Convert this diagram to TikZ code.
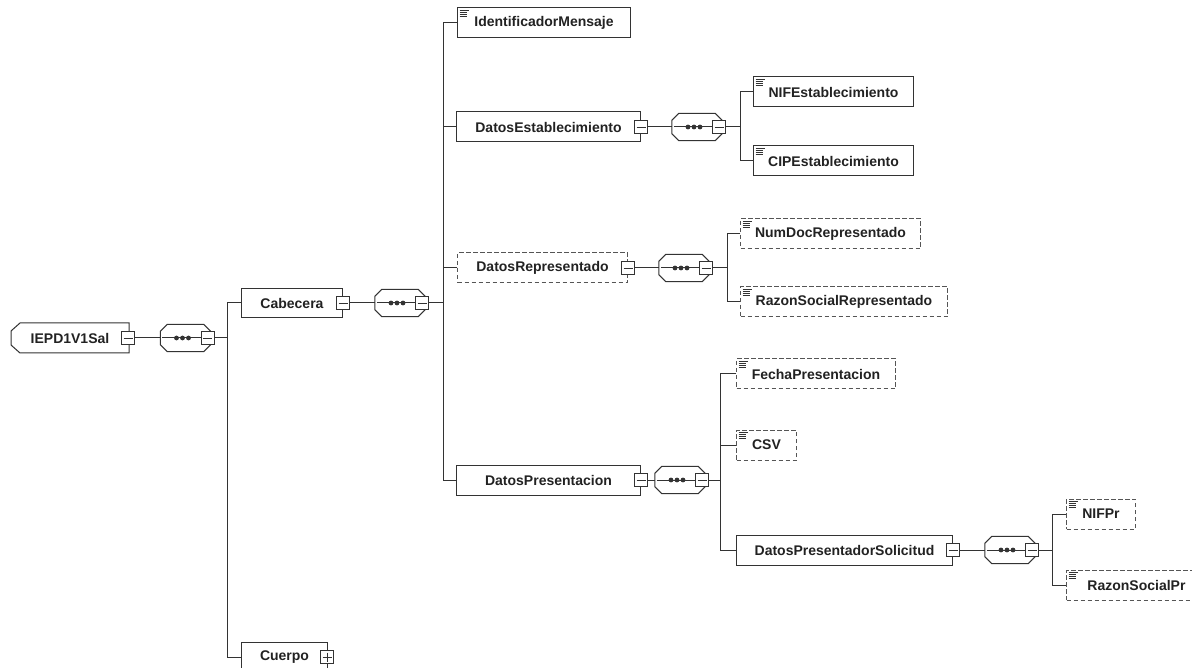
\documentclass[tikz,border=0pt]{standalone}
\usepackage{fontspec}
\setmainfont{Liberation Sans}
\definecolor{linec}{HTML}{333333}
\definecolor{optc}{HTML}{555555}
\definecolor{txtc}{HTML}{222222}
\tikzset{
 wire/.style={draw=linec, line width=1pt},
 elembox/.style={draw=linec, fill=white, line width=1pt, minimum height=30pt, inner sep=0pt, anchor=west, font=\fontsize{14}{16}\selectfont\bfseries, text=txtc},
 optbox/.style={elembox, draw=optc, dash pattern=on 4.5pt off 2.5pt},
 rootbox/.style={elembox, draw=none, fill=none},
 seqbox/.style={minimum width=50pt, minimum height=27pt, inner sep=0pt},
 mbox/.style={draw=linec, fill=white, line width=0.9pt, minimum size=13pt, inner sep=0pt,
   path picture={\draw[linec, line width=0.9pt] ([xshift=2pt]path picture bounding box.west) -- ([xshift=-2pt]path picture bounding box.east);}},
 pbox/.style={draw=linec, fill=white, line width=0.9pt, minimum size=13pt, inner sep=0pt,
   path picture={\draw[linec, line width=0.9pt] ([xshift=2pt]path picture bounding box.west) -- ([xshift=-2pt]path picture bounding box.east);
     \draw[linec, line width=0.9pt] ([yshift=-2pt]path picture bounding box.north) -- ([yshift=2pt]path picture bounding box.south);}},
}
\newcommand{\seqdraw}[1]{%
 \draw[wire, fill=white] ([xshift=7pt]#1.north west) -- ([xshift=-7pt]#1.north east) -- ([yshift=-7pt]#1.north east) -- ([yshift=7pt]#1.south east) -- ([xshift=-7pt]#1.south east) -- ([xshift=7pt]#1.south west) -- ([yshift=7pt]#1.south west) -- ([yshift=-7pt]#1.north west) -- cycle;
 \node[mbox] (#1m) at ([xshift=-3pt]#1.east) {};
 \draw[wire] ([xshift=2pt]#1.west) -- (#1m.west);
 \foreach \d in {-9,-3,3} \fill[linec] ([xshift=\d pt]#1.center) circle (2.4pt);
}
\newcommand{\docicon}[1]{%
 \draw[linec, line width=0.8pt] ([shift={(2.5pt,-2.5pt)}]#1.north west) -- ++(9pt,0pt)
   ([shift={(2.5pt,-4.7pt)}]#1.north west) -- ++(7pt,0pt)
   ([shift={(2.5pt,-6.9pt)}]#1.north west) -- ++(7pt,0pt)
   ([shift={(2.5pt,-9.1pt)}]#1.north west) -- ++(7pt,0pt);}
\begin{document}
\begin{tikzpicture}[x=1pt, y=-1pt]
\useasboundingbox (0,0) rectangle (1192,668);
\clip (0,0) rectangle (1192,668);
\fill[white] (0,0) rectangle (1192,668);
% vertical bus coordinates
\coordinate (v0) at (227,0);
\coordinate (v1) at (443,0);
\coordinate (v2) at (740,0);
\coordinate (v3) at (727,0);
\coordinate (v4) at (720,0);
\coordinate (v5) at (1052,0);
% root
\node[rootbox, minimum width=117pt, minimum height=29pt] (root) at (11,338) {IEPD1V1Sal};
\draw[wire] ([xshift=9pt]root.north west) -- (root.north east) -- (root.south east) -- ([xshift=9pt]root.south west) -- ([yshift=8pt]root.south west) -- ([yshift=-8pt]root.north west) -- cycle;
\node[mbox] (rootm) at ([xshift=-1pt]root.east) {};
\node[seqbox] (s0) at (185.5,338) {};
\seqdraw{s0}
% level 1
\node[elembox, minimum width=101pt, minimum height=29pt] (cab) at (241,303) {Cabecera};
\node[mbox] (cabm) at (cab.east) {};
\node[seqbox] (s1) at (400,303) {};
\seqdraw{s1}
\node[elembox, minimum width=86pt] (cuerpo) at (241,657) {Cuerpo};
\node[pbox] (cuerpop) at ([xshift=-1pt]cuerpo.east) {};
% level 2
\node[elembox, minimum width=173pt] (idm) at (457,23) {IdentificadorMensaje};
\docicon{idm}
\node[elembox, minimum width=184pt] (dest) at (456,127) {DatosEstablecimiento};
\node[mbox] (destm) at (dest.east) {};
\node[seqbox] (s2) at (697,127) {};
\seqdraw{s2}
\node[optbox, minimum width=170pt] (drep) at (457,268) {DatosRepresentado};
\node[mbox] (drepm) at (drep.east) {};
\node[seqbox] (s3) at (684,268) {};
\seqdraw{s3}
\node[elembox, minimum width=184pt] (dpre) at (456,480) {DatosPresentacion};
\node[mbox] (dprem) at (dpre.east) {};
\node[seqbox] (s4) at (680,480) {};
\seqdraw{s4}
% level 3
\node[elembox, minimum width=160pt] (nife) at (753,92) {NIFEstablecimiento};
\docicon{nife}
\node[elembox, minimum width=160pt] (cipe) at (753,161) {CIPEstablecimiento};
\docicon{cipe}
\node[optbox, minimum width=180pt] (ndr) at (740,234) {NumDocRepresentado};
\docicon{ndr}
\node[optbox, minimum width=207pt] (rsr) at (740,302) {RazonSocialRepresentado};
\docicon{rsr}
\node[optbox, minimum width=159pt] (fech) at (736,374) {FechaPresentacion};
\docicon{fech}
\node[optbox, minimum width=60pt] (csv) at (736,445) {CSV};
\docicon{csv}
\node[elembox, minimum width=216pt] (dps) at (736,550) {DatosPresentadorSolicitud};
\node[mbox] (dpsm) at (dps.east) {};
\node[seqbox] (s5) at (1010,550) {};
\seqdraw{s5}
% level 4
\node[optbox, minimum width=69pt] (nifpr) at (1066,514) {NIFPr};
\docicon{nifpr}
\node[optbox, minimum width=140pt] (rspr) at (1066,585) {RazonSocialPr};
\docicon{rspr}
% connectors
\draw[wire] (rootm.east) -- (s0.west);
\draw[wire] (s0m.east) -- (s0m.east -| v0);
\draw[wire] (cab.west) -- (cab.west -| v0) -- (cuerpo.west -| v0) -- (cuerpo.west);
\draw[wire] (cabm.east) -- (s1.west);
\draw[wire] (s1m.east) -- (s1m.east -| v1);
\draw[wire] (idm.west) -- (idm.west -| v1) -- (dpre.west -| v1) -- (dpre.west);
\draw[wire] (dest.west) -- (dest.west -| v1);
\draw[wire] (drep.west) -- (drep.west -| v1);
\draw[wire] (destm.east) -- (s2.west);
\draw[wire] (s2m.east) -- (s2m.east -| v2);
\draw[wire] (nife.west) -- (nife.west -| v2) -- (cipe.west -| v2) -- (cipe.west);
\draw[wire] (drepm.east) -- (s3.west);
\draw[wire] (s3m.east) -- (s3m.east -| v3);
\draw[wire] (ndr.west) -- (ndr.west -| v3) -- (rsr.west -| v3) -- (rsr.west);
\draw[wire] (dprem.east) -- (s4.west);
\draw[wire] (s4m.east) -- (s4m.east -| v4);
\draw[wire] (fech.west) -- (fech.west -| v4) -- (dps.west -| v4) -- (dps.west);
\draw[wire] (csv.west) -- (csv.west -| v4);
\draw[wire] (dpsm.east) -- (s5.west);
\draw[wire] (s5m.east) -- (s5m.east -| v5);
\draw[wire] (nifpr.west) -- (nifpr.west -| v5) -- (rspr.west -| v5) -- (rspr.west);
\end{tikzpicture}
\end{document}
